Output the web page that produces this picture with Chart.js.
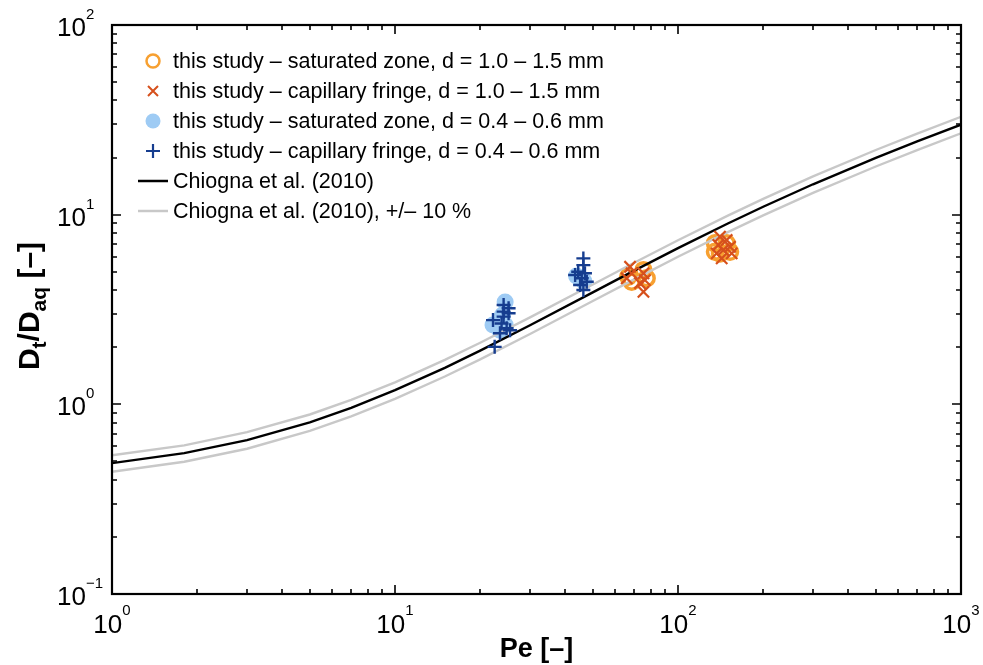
<!DOCTYPE html>
<html>
<head>
<meta charset="utf-8">
<title>Transverse dispersion vs Pe</title>
<script src="https://cdn.jsdelivr.net/npm/chart.js@4.4.0/dist/chart.umd.min.js"></script>
<style>
  html, body { margin: 0; padding: 0; background: #ffffff; }
</style>
</head>
<body>
<canvas id="dispersion_chart" width="983" height="665"></canvas>
<script>
/* Dt/Daq against Pe, log-log, with the Chiogna et al. (2010) curve */
var fontFamily = '"Liberation Sans", Arial, Helvetica, sans-serif';

// Chiogna et al. (2010) curve and the +/- 10 % band
var curvePe = [1, 1.8, 3, 5, 7, 10, 15, 20, 30, 50, 70, 100, 150, 200, 300, 500, 700, 1000];
var chiognaMid = [0.49, 0.553, 0.648, 0.804, 0.959, 1.187, 1.558, 1.919, 2.611, 3.896, 5.069, 6.663, 8.988, 11.013, 14.462, 19.935, 24.339, 29.825];
var chiognaUpper = [0.539, 0.608, 0.713, 0.884, 1.055, 1.306, 1.714, 2.111, 2.872, 4.286, 5.576, 7.329, 9.887, 12.114, 15.908, 21.929, 26.773, 32.808];
var chiognaLower = [0.441, 0.498, 0.583, 0.724, 0.863, 1.068, 1.402, 1.727, 2.350, 3.506, 4.562, 5.997, 8.089, 9.912, 13.016, 17.942, 21.905, 26.843];

// saturated zone, d = 1.0 - 1.5 mm
var satCoarsePe = [68.6, 75.5, 77.5, 66.7, 135.1, 148.6, 140.7, 152.7, 135.1];
var satCoarseD = [4.43, 5.10, 4.62, 4.71, 7.06, 7.06, 6.25, 6.37, 6.37];
// capillary fringe, d = 1.0 - 1.5 mm
var capCoarsePe = [67.7, 68.6, 65.9, 75.5, 76.4, 73.4, 75.5, 140.7, 148.6, 138.8, 152.7, 144.5, 137.0, 154.8, 142.7];
var capCoarseD = [5.31, 4.91, 4.62, 4.91, 4.52, 4.35, 3.92, 7.65, 7.35, 6.92, 6.77, 6.51, 6.25, 6.25, 5.88];
// saturated zone, d = 0.4 - 0.6 mm
var satFinePe = [24.5, 24.0, 23.5, 22.2, 24.5, 45.1, 43.8, 46.5];
var satFineD = [3.46, 2.96, 2.46, 2.62, 2.62, 4.63, 4.75, 4.45];
// capillary fringe, d = 0.4 - 0.6 mm
var capFinePe = [24.2, 25.2, 24.2, 25.2, 24.2, 22.2, 23.8, 24.8, 25.5, 23.5, 22.5, 46.3, 46.3, 44.4, 46.9, 43.3, 45.7, 47.6, 45.1, 46.3];
var capFineD = [3.34, 3.21, 3.08, 3.02, 2.90, 2.78, 2.67, 2.52, 2.46, 2.37, 2.01, 5.88, 5.42, 5.00, 4.91, 4.81, 4.62, 4.43, 4.26, 4.01];

// axis ticks
var xMajorTicks = [1, 10, 100, 1000];
var xTickExponents = ['0', '1', '2', '3'];
var yMajorTicks = [0.1, 1, 10, 100];
var yTickExponents = ['\u22121', '0', '1', '2'];

var orangeRing = '#f7a031';
var redCross = '#d6501c';
var lightBlue = '#9ecbf4';
var darkBlue = '#163d8f';

function zip(xs, ys) {
    return xs.map(function (x, i) { return { x: x, y: ys[i] }; });
}

function minorTicks(majors) {
    var list = [];
    for (var i = 0; i < majors.length - 1; i++) {
        for (var k = 2; k <= 9; k++) list.push(majors[i] * k);
    }
    return list;
}

// text with sub/superscript pieces: [[text, dy, size]]
function pieceWidth(ctx, pieces, weight) {
    var w = 0;
    pieces.forEach(function (p) {
        ctx.font = weight + ' ' + p[2] + 'px ' + fontFamily;
        w += ctx.measureText(p[0]).width;
    });
    return w;
}
function drawPieces(ctx, pieces, x, y, weight) {
    pieces.forEach(function (p) {
        ctx.font = weight + ' ' + p[2] + 'px ' + fontFamily;
        ctx.fillText(p[0], x, y + p[1]);
        x += ctx.measureText(p[0]).width;
    });
}

var legendItems = [
    { text: 'this study \u2013 saturated zone, d = 1.0 \u2013 1.5 mm', kind: 'ring', color: orangeRing },
    { text: 'this study \u2013 capillary fringe, d = 1.0 \u2013 1.5 mm', kind: 'x', color: redCross },
    { text: 'this study \u2013 saturated zone, d = 0.4 \u2013 0.6 mm', kind: 'dot', color: lightBlue },
    { text: 'this study \u2013 capillary fringe, d = 0.4 \u2013 0.6 mm', kind: 'plus', color: darkBlue },
    { text: 'Chiogna et al. (2010)', kind: 'line', color: '#000000' },
    { text: 'Chiogna et al. (2010), +/\u2013 10 %', kind: 'line', color: '#c8c8c8' }
];

var axisFrame = {
    id: 'axisFrame',
    afterDraw: function (chart) {
        var ctx = chart.ctx, a = chart.chartArea;
        var xs = chart.scales.x, ys = chart.scales.y;
        ctx.save();

        // inward ticks on all four sides
        ctx.strokeStyle = '#000000';
        ctx.lineWidth = 1.6;
        ctx.beginPath();
        function xTick(v, len) {
            var px = Math.round(xs.getPixelForValue(v));
            ctx.moveTo(px, a.bottom); ctx.lineTo(px, a.bottom - len);
            ctx.moveTo(px, a.top); ctx.lineTo(px, a.top + len);
        }
        function yTick(v, len) {
            var py = Math.round(ys.getPixelForValue(v));
            ctx.moveTo(a.left, py); ctx.lineTo(a.left + len, py);
            ctx.moveTo(a.right, py); ctx.lineTo(a.right - len, py);
        }
        xMajorTicks.forEach(function (v) { xTick(v, 9); });
        minorTicks(xMajorTicks).forEach(function (v) { xTick(v, 5); });
        yMajorTicks.forEach(function (v) { yTick(v, 9); });
        minorTicks(yMajorTicks).forEach(function (v) { yTick(v, 5); });
        ctx.stroke();

        // frame
        ctx.lineWidth = 2.2;
        ctx.strokeRect(a.left, a.top, a.right - a.left, a.bottom - a.top);

        // tick labels 10^n
        ctx.fillStyle = '#000000';
        ctx.textBaseline = 'alphabetic';
        ctx.textAlign = 'left';
        xMajorTicks.forEach(function (v, i) {
            var pieces = [['10', 0, 26], [xTickExponents[i], -18, 15]];
            var w = pieceWidth(ctx, pieces, 'normal');
            drawPieces(ctx, pieces, xs.getPixelForValue(v) - w / 2, 633, 'normal');
        });
        yMajorTicks.forEach(function (v, i) {
            var py = ys.getPixelForValue(v);
            ctx.font = 'normal 26px ' + fontFamily;
            var w10 = ctx.measureText('10').width;
            drawPieces(ctx, [['10', 0, 26], [yTickExponents[i], -17, 15]], 86 - w10, py + 11, 'normal');
        });

        // axis titles
        var xTitle = [['Pe [\u2013]', 0, 27]];
        var wx = pieceWidth(ctx, xTitle, 'bold');
        drawPieces(ctx, xTitle, (a.left + a.right) / 2 - wx / 2, 657, 'bold');

        var yTitle = [['D', 0, 30], ['t', 7, 21], ['/D', 0, 30], ['aq', 7, 21], [' [\u2013]', 0, 30]];
        var wy = pieceWidth(ctx, yTitle, 'bold');
        ctx.save();
        ctx.translate(39, 306);
        ctx.rotate(-Math.PI / 2);
        drawPieces(ctx, yTitle, -wy / 2, 0, 'bold');
        ctx.restore();

        // legend
        var mx = 153, tx = 173, rowY = 61, rowGap = 30;
        ctx.font = 'normal 21.5px ' + fontFamily;
        ctx.textBaseline = 'middle';
        legendItems.forEach(function (item, i) {
            var y = rowY + i * rowGap;
            ctx.strokeStyle = item.color;
            ctx.fillStyle = item.color;
            ctx.beginPath();
            if (item.kind === 'ring') {
                ctx.lineWidth = 2.5;
                ctx.arc(mx, y, 6.5, 0, Math.PI * 2);
                ctx.stroke();
            } else if (item.kind === 'dot') {
                ctx.arc(mx, y, 7.5, 0, Math.PI * 2);
                ctx.fill();
            } else if (item.kind === 'x') {
                ctx.lineWidth = 2;
                ctx.moveTo(mx - 5, y - 5); ctx.lineTo(mx + 5, y + 5);
                ctx.moveTo(mx + 5, y - 5); ctx.lineTo(mx - 5, y + 5);
                ctx.stroke();
            } else if (item.kind === 'plus') {
                ctx.lineWidth = 2.2;
                ctx.moveTo(mx - 7, y); ctx.lineTo(mx + 7, y);
                ctx.moveTo(mx, y - 7); ctx.lineTo(mx, y + 7);
                ctx.stroke();
            } else {
                ctx.lineWidth = 2.5;
                ctx.moveTo(138, y); ctx.lineTo(168, y);
                ctx.stroke();
            }
            ctx.fillStyle = '#000000';
            ctx.fillText(item.text, tx, y + 1);
        });

        ctx.restore();
    }
};

var ctx = document.getElementById('dispersion_chart');
var dispersionChart = new Chart(ctx, {
    type: 'scatter',
    data: {
        datasets: [{
            label: 'this study - saturated zone, d = 0.4 - 0.6 mm',
            data: zip(satFinePe, satFineD),
            pointStyle: 'circle',
            pointRadius: 8.5,
            backgroundColor: lightBlue,
            borderColor: lightBlue,
            borderWidth: 0,
            order: 7
        }, {
            label: 'this study - saturated zone, d = 1.0 - 1.5 mm',
            data: zip(satCoarsePe, satCoarseD),
            pointStyle: 'circle',
            pointRadius: 7.5,
            backgroundColor: 'rgba(0,0,0,0)',
            borderColor: orangeRing,
            borderWidth: 3.5,
            order: 6
        }, {
            label: 'Chiogna et al. (2010) +10 %',
            data: zip(curvePe, chiognaUpper),
            showLine: true,
            pointRadius: 0,
            borderColor: '#c8c8c8',
            borderWidth: 2.4,
            order: 5
        }, {
            label: 'Chiogna et al. (2010) -10 %',
            data: zip(curvePe, chiognaLower),
            showLine: true,
            pointRadius: 0,
            borderColor: '#c8c8c8',
            borderWidth: 2.4,
            order: 4
        }, {
            label: 'Chiogna et al. (2010)',
            data: zip(curvePe, chiognaMid),
            showLine: true,
            pointRadius: 0,
            borderColor: '#000000',
            borderWidth: 2.4,
            order: 3
        }, {
            label: 'this study - capillary fringe, d = 1.0 - 1.5 mm',
            data: zip(capCoarsePe, capCoarseD),
            pointStyle: 'crossRot',
            pointRadius: 8,
            borderColor: redCross,
            borderWidth: 2.2,
            order: 2
        }, {
            label: 'this study - capillary fringe, d = 0.4 - 0.6 mm',
            data: zip(capFinePe, capFineD),
            pointStyle: 'cross',
            pointRadius: 7,
            borderColor: darkBlue,
            borderWidth: 2.4,
            order: 1
        }]
    },
    options: {
        responsive: false,
        animation: false,
        layout: { padding: { left: 112, top: 25, right: 22, bottom: 71 } },
        plugins: {
            legend: { display: false },
            tooltip: { enabled: false }
        },
        scales: {
            x: {
                type: 'logarithmic',
                min: 1,
                max: 1000,
                ticks: { display: false },
                grid: { display: false },
                border: { display: false },
                afterFit: function (s) { s.height = 0; }
            },
            y: {
                type: 'logarithmic',
                min: 0.1,
                max: 100,
                ticks: { display: false },
                grid: { display: false },
                border: { display: false },
                afterFit: function (s) { s.width = 0; }
            }
        }
    },
    plugins: [axisFrame]
});
</script>
</body>
</html>
